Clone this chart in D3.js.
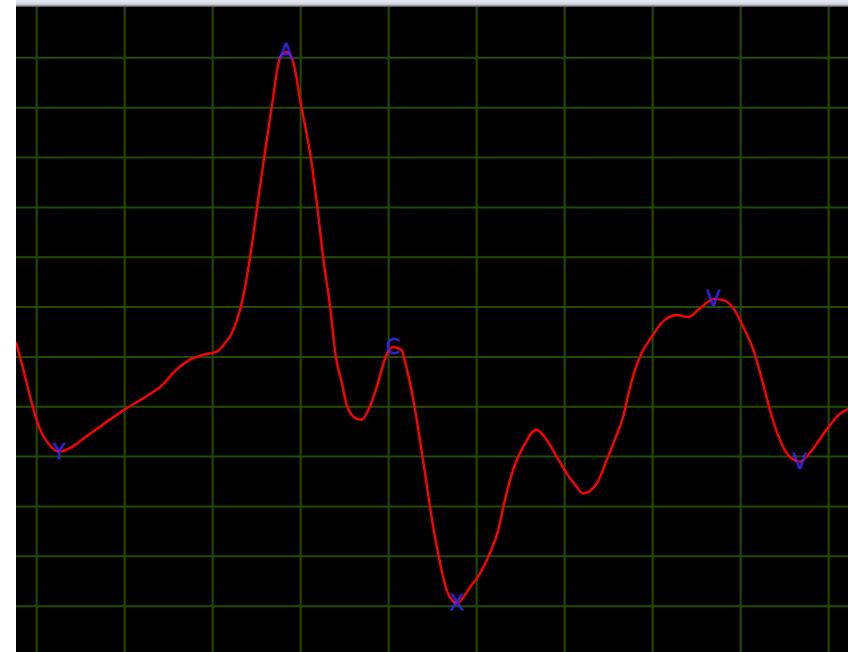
<!DOCTYPE html>
<html>
<head>
<meta charset="utf-8">
<script src="https://cdn.jsdelivr.net/npm/d3@7"></script>
<style>
  html, body { margin: 0; padding: 0; background: #ffffff; }
  svg { display: block; }
</style>
</head>
<body>
<svg id="chart" width="848" height="652"></svg>
<script>
// ---- Data (time in ms, amplitude in mV) ----
const timeMs = [153,168,187,206,225,251,282,312,350,403,448,486,517,547,577,608,630,639,655,664,685,701,717,734,753,767,780,802,823,838,851,867,880,893,906,927,939,954,973,995,1010,1030,1035,1056,1071,1086,1101,1117,1132,1155,1185,1208,1230,1249,1264,1283,1306,1336,1359,1382,1405,1427,1442,1473,1496,1514,1533,1545,1560,1575,1598,1620,1655,1681,1708,1738,1761,1783,1806,1829,1851,1871,1893,1916,1935,1965,1995,2026,2046];
const voltageMv = [0.15,-0.10,-0.43,-0.71,-0.86,-0.95,-0.90,-0.80,-0.68,-0.52,-0.40,-0.28,-0.13,-0.03,0.02,0.05,0.15,0.20,0.37,0.50,1.00,1.50,2.00,2.50,3.00,3.06,3.00,2.50,2.00,1.50,1.00,0.50,0.00,-0.25,-0.50,-0.62,-0.63,-0.53,-0.30,0.02,0.10,0.07,-0.01,-0.43,-0.83,-1.27,-1.70,-2.07,-2.34,-2.47,-2.31,-2.17,-1.97,-1.74,-1.44,-1.13,-0.90,-0.73,-0.83,-1.00,-1.17,-1.30,-1.37,-1.27,-1.03,-0.83,-0.60,-0.37,-0.13,0.04,0.20,0.34,0.42,0.40,0.49,0.58,0.57,0.49,0.30,0.07,-0.27,-0.60,-0.87,-1.02,-1.05,-0.92,-0.73,-0.57,-0.52];

const markerLabels = ["Y","A","C","X","V","V"];
const markerTimes  = [251,767,1010,1155,1738,1935];
const markerValues = [-0.95,3.06,0.10,-2.47,0.58,-1.05];

const gridTimes = [200,400,600,800,1000,1200,1400,1600,1800,2000];
const gridValues = [-2.5,-2.0,-1.5,-1.0,-0.5,0,0.5,1.0,1.5,2.0,2.5,3.0];

// ---- Layout ----
const plot = { left: 16, top: 7, right: 848, bottom: 652 };

const svg = d3.select("#chart");

const x = d3.scaleLinear().domain([153, 2044]).range([plot.left, plot.right]);
const y = d3.scaleLinear().domain([-2.96, 3.51]).range([plot.bottom, plot.top]);

// top chrome band
const defs = svg.append("defs");
const grad = defs.append("linearGradient").attr("id", "topband")
  .attr("x1", 0).attr("y1", 0).attr("x2", 0).attr("y2", 1);
grad.append("stop").attr("offset", "0%").attr("stop-color", "#e4e9f1");
grad.append("stop").attr("offset", "60%").attr("stop-color", "#d0d7e2");
grad.append("stop").attr("offset", "78%").attr("stop-color", "#9c9c9c");
grad.append("stop").attr("offset", "100%").attr("stop-color", "#404040");

svg.append("rect")
  .attr("x", plot.left).attr("y", 0)
  .attr("width", plot.right - plot.left).attr("height", plot.top)
  .attr("fill", "url(#topband)");

// black plot background
svg.append("rect")
  .attr("x", plot.left).attr("y", plot.top)
  .attr("width", plot.right - plot.left).attr("height", plot.bottom - plot.top)
  .attr("fill", "#000000");

// grid
const grid = svg.append("g").attr("stroke", "#234d06").attr("stroke-width", 2);
grid.selectAll("line.v").data(gridTimes).join("line")
  .attr("class", "v")
  .attr("x1", d => x(d)).attr("x2", d => x(d))
  .attr("y1", plot.top).attr("y2", plot.bottom);
grid.selectAll("line.h").data(gridValues).join("line")
  .attr("class", "h")
  .attr("x1", plot.left).attr("x2", plot.right)
  .attr("y1", d => y(d)).attr("y2", d => y(d));

// trace
const pts = timeMs.map((t, i) => [t, voltageMv[i]]);
const line = d3.line()
  .x(d => x(d[0])).y(d => y(d[1]))
  .curve(d3.curveMonotoneX);

const clip = defs.append("clipPath").attr("id", "plotclip");
clip.append("rect")
  .attr("x", plot.left).attr("y", plot.top)
  .attr("width", plot.right - plot.left).attr("height", plot.bottom - plot.top);

svg.append("path")
  .datum(pts)
  .attr("clip-path", "url(#plotclip)")
  .attr("fill", "none")
  .attr("stroke", "#ff0000")
  .attr("stroke-width", 2.4)
  .attr("stroke-linejoin", "round")
  .attr("d", line);

// markers
svg.append("g").selectAll("text")
  .data(markerLabels.map((l, i) => ({ l, t: markerTimes[i], v: markerValues[i] })))
  .join("text")
  .attr("x", d => x(d.t))
  .attr("y", d => y(d.v))
  .attr("text-anchor", "middle")
  .attr("dominant-baseline", "central")
  .attr("font-family", "DejaVu Sans, sans-serif")
  .attr("font-size", 21)
  .attr("fill", "#3c28f0")
  .attr("fill-opacity", 0.85)
  .attr("stroke", "#3c28f0")
  .attr("stroke-opacity", 0.6)
  .attr("stroke-width", 0.8)
  .text(d => d.l);
</script>
</body>
</html>
